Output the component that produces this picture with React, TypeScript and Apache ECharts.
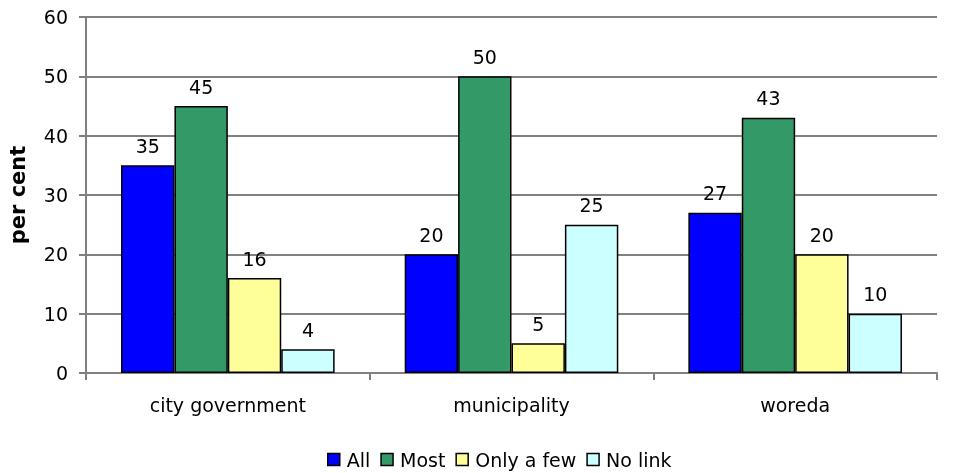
import React, { useEffect, useRef } from "react";
import * as echarts from "echarts";

const categories = ["city government", "municipality", "woreda"];
const seriesNames = ["All", "Most", "Only a few", "No link"];
const allValues = [35, 20, 27];
const mostValues = [45, 50, 43];
const fewValues = [16, 5, 20];
const noLinkValues = [4, 25, 10];
const colors = ["#0000FF", "#339966", "#FFFF99", "#CCFFFF"];

const FONT = "'DejaVu Sans', Verdana, sans-serif";
const FS = 19;

export default function App() {
  const ref = useRef<HTMLDivElement>(null);

  useEffect(() => {
    if (!ref.current) return;
    const chart = echarts.init(ref.current, null, { renderer: "svg" });
    const data = [allValues, mostValues, fewValues, noLinkValues];
    chart.setOption({
      animation: false,
      textStyle: { fontFamily: FONT },
      grid: {
        left: 86,
        right: 22,
        top: 17,
        bottom: 100,
        containLabel: false,
        outerBoundsMode: "none",
      },
      legend: {
        top: 450,
        left: 327,
        padding: 0,
        itemWidth: 12,
        itemHeight: 12,
        itemGap: 10,
        icon: "rect",
        textStyle: { fontSize: FS, color: "#000", fontFamily: FONT, padding: [0, 0, 0, 2] },
        data: seriesNames.map((n, i) => ({
          name: n,
          itemStyle: { color: colors[i], borderColor: "#000", borderWidth: 1.5 },
        })),
      },
      xAxis: {
        type: "category",
        data: categories,
        axisLine: { lineStyle: { color: "#808080", width: 2 } },
        axisTick: { show: true, length: 7, lineStyle: { color: "#808080", width: 2 } },
        axisLabel: { fontSize: FS, color: "#000", margin: 22, fontFamily: FONT },
      },
      yAxis: {
        type: "value",
        min: 0,
        max: 60,
        interval: 10,
        name: "per cent",
        nameLocation: "middle",
        nameGap: 58,
        nameTextStyle: { fontSize: 21, fontWeight: "bold", color: "#000", fontFamily: FONT },
        axisLine: { show: true, lineStyle: { color: "#808080", width: 2 } },
        axisTick: { show: true, length: 7, lineStyle: { color: "#808080", width: 2 } },
        splitLine: { lineStyle: { color: "#808080", width: 2 } },
        axisLabel: { fontSize: FS, color: "#000", margin: 18, fontFamily: FONT },
      },
      series: seriesNames.map((name, i) => ({
        name,
        type: "bar",
        data: data[i],
        barGap: "0%",
        barCategoryGap: "24.7%",
        itemStyle: { color: colors[i], borderColor: "#000", borderWidth: 1.5 },
        label: {
          show: true,
          position: "top",
          distance: 10,
          fontSize: FS,
          color: "#000",
          fontFamily: FONT,
        },
      })),
    });
    return () => chart.dispose();
  }, []);

  return (
    <div
      ref={ref}
      style={{ position: "fixed", left: 0, top: 0, width: 959, height: 473 }}
    />
  );
}
